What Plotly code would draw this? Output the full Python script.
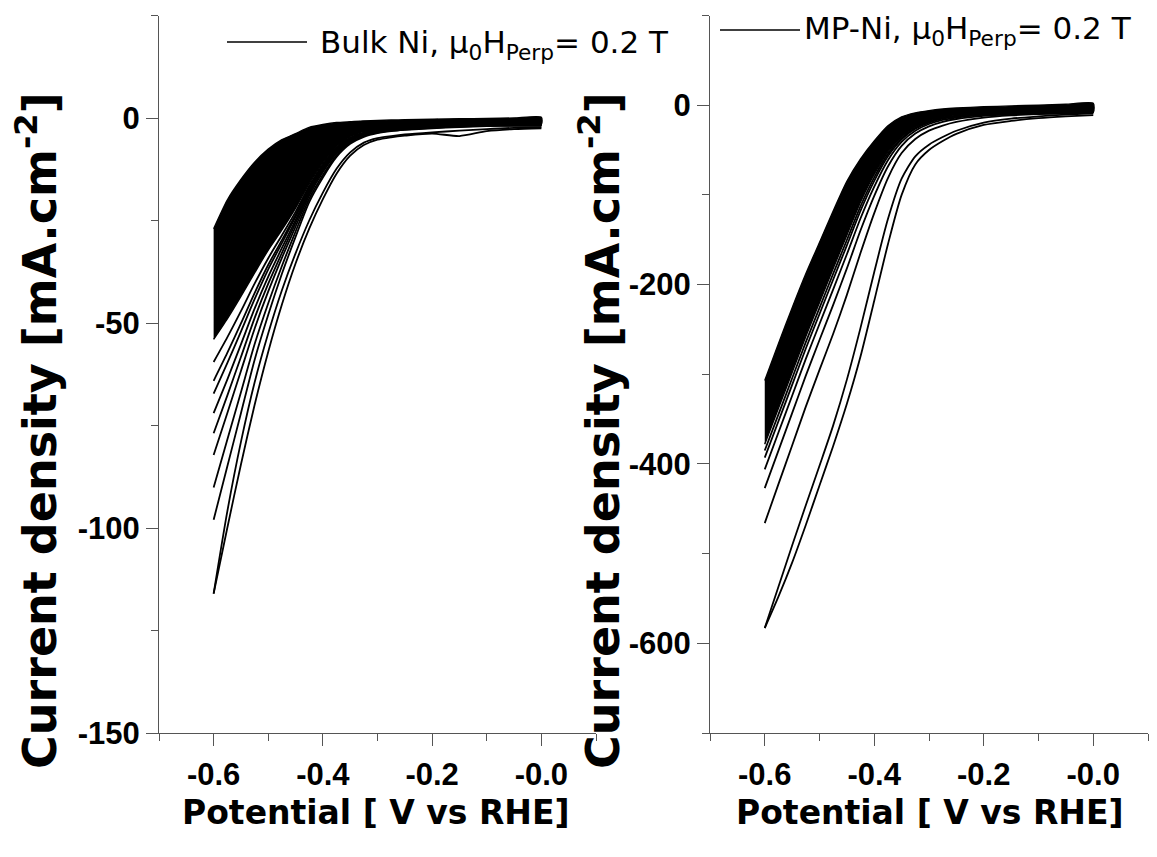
import plotly.graph_objects as go

# ---------------- data ----------------
potential = [-0.6, -0.575, -0.55, -0.525, -0.5, -0.475, -0.45, -0.425, -0.4, -0.375,
             -0.35, -0.325, -0.3, -0.275, -0.25, -0.2, -0.15, -0.1, -0.05, 0.0]

# Bulk Ni (left panel), current density in mA/cm2
bulk_band_upper = [-27, -20, -15, -10.8, -7.6, -5.3, -3.8, -2.3, -1.6, -1.1,
                   -0.9, -0.7, -0.6, -0.5, -0.4, -0.3, -0.2, -0.1, 0.0, 0.2]
bulk_band_lower = [-54, -49, -43.5, -37.8, -32.2, -27.3, -22, -16, -11, -7,
                   -4.7, -3.5, -3.0, -2.6, -2.35, -2.0, -1.7, -1.6, -1.5, -1.5]
bulk_c60 = [-59.5, -53.5, -47.1, -40.4, -34.2, -28.6, -22.9, -16.6, -11.4, -7.3,
            -4.9, -3.6, -3.1, -2.7, -2.4, -2.1, -1.8, -1.65, -1.55, -1.55]
bulk_c64 = [-64.1, -57.3, -50.1, -42.7, -35.8, -29.8, -23.6, -17.0, -11.8, -7.6,
            -5.1, -3.75, -3.16, -2.74, -2.48, -2.12, -1.82, -1.69, -1.59, -1.59]
bulk_c67 = [-67.2, -59.8, -52.1, -44.2, -36.9, -30.5, -24.1, -17.35, -12.05, -7.75,
            -5.2, -3.8, -3.2, -2.8, -2.5, -2.15, -1.85, -1.7, -1.6, -1.6]
bulk_c72 = [-72, -63.8, -55.2, -46.5, -38.7, -31.7, -24.9, -17.8, -12.4, -8.0,
            -5.35, -3.95, -3.3, -2.85, -2.58, -2.2, -1.9, -1.76, -1.66, -1.66]
bulk_c77 = [-76.9, -67.7, -58.3, -48.8, -40.4, -32.9, -25.6, -18.3, -12.8, -8.3,
            -5.5, -4.07, -3.36, -2.91, -2.64, -2.26, -1.96, -1.81, -1.71, -1.71]
bulk_c82 = [-82.2, -72, -61.7, -51.4, -42.3, -34.1, -26.5, -18.9, -13.2, -8.6,
            -5.7, -4.2, -3.45, -3.0, -2.7, -2.32, -2.02, -1.86, -1.76, -1.76]
bulk_c90 = [-90.1, -78.5, -66.9, -55.2, -45.2, -36.1, -27.7, -19.7, -13.9, -9.05,
            -6.0, -4.4, -3.57, -3.1, -2.8, -2.4, -2.1, -1.93, -1.83, -1.83]
bulk_c98 = [-98, -85, -72, -59, -48, -38, -29, -20.5, -14.5, -9.5,
            -6.3, -4.6, -3.7, -3.2, -2.9, -2.5, -2.2, -2.0, -1.9, -1.9]
bulk_c116_rev = [-116, -96, -79, -64.5, -52.5, -42, -33, -25, -18.2, -12.4,
                 -8.4, -6.0, -4.9, -4.4, -4.0, -3.5, -3.1, -2.7, -2.4, -2.3]
bulk_c116_fwd = [-116, -100, -84.5, -70, -57, -45.5, -35.5, -27, -19.8, -13.6,
                 -9.2, -6.6, -5.3, -4.7, -4.3, -3.8, -4.4, -3.2, -2.7, -2.5]

# MP-Ni (right panel)
mp_band_upper = [-307, -266, -226, -188, -153, -118, -85, -60, -40, -23,
                 -13, -8.5, -6, -4.3, -3.2, -1.8, -0.8, 0, 1, 2.2]
mp_band_lower = [-378, -338, -298, -258, -220, -182, -145, -108, -77, -52,
                 -35, -24, -17.5, -13.5, -11.5, -9.5, -8.7, -8.2, -8, -7.8]
mp_c385 = [-385, -344.7, -304.5, -264.2, -226, -187.8, -150.3, -112.5, -80.4, -54.3,
           -36.5, -25.1, -18.4, -14.2, -12.1, -9.8, -8.9, -8.3, -8.1, -7.8]
mp_c393 = [-393, -352.4, -311.9, -271.3, -232.8, -194.4, -156.3, -117.6, -84.4, -57,
           -38.1, -26.3, -19.4, -15.1, -12.7, -10.2, -9.2, -8.5, -8.2, -7.9]
mp_c406 = [-406.1, -365, -324, -282.9, -244, -205.3, -166.2, -126.1, -90.8, -61.3,
           -40.9, -28.4, -21, -16.4, -13.8, -10.9, -9.6, -8.8, -8.3, -7.95]
mp_c427 = [-427, -385.1, -343.4, -301.5, -261.8, -222.6, -182, -139.5, -101.1, -68.3,
           -45.3, -31.6, -23.6, -18.6, -15.4, -11.9, -10.2, -9.2, -8.6, -8.1]
mp_c466 = [-466, -422.5, -379.5, -336.1, -295.1, -254.9, -211.5, -164.6, -120.3, -81.2,
           -53.4, -37.7, -28.4, -22.7, -18.6, -13.8, -11.4, -10, -9.1, -8.3]
mp_c583_rev = [-583, -537, -491, -446, -402, -357, -306, -248, -186, -127,
               -82, -57, -44, -35.5, -28.5, -19.5, -15, -12.5, -10.5, -9]
mp_c583_fwd = [-583, -548, -510, -468, -424, -380, -333, -280, -218, -155,
               -100, -66, -50, -40, -32, -22, -17.5, -14.5, -12.5, -11]

x_tickvals = [-0.6, -0.4, -0.2, 0.0]
x_ticktext = ["-0.6", "-0.4", "-0.2", "-0.0"]
bulk_y_tickvals = [-150, -100, -50, 0]
bulk_y_ticktext = ["-150", "-100", "-50", "0"]
mp_y_tickvals = [-600, -400, -200, 0]
mp_y_ticktext = ["-600", "-400", "-200", "0"]
left_legend = "Bulk Ni, \u03bc<sub>0</sub>H<sub>Perp</sub>= 0.2 T"
right_legend = "MP-Ni, \u03bc<sub>0</sub>H<sub>Perp</sub>= 0.2 T"
x_title = "Potential [ V vs RHE]"
y_title = "Current density [mA.cm<sup>-2</sup>]"

# ---------------- figure ----------------
W, H = 1157, 857
fig = go.Figure()
LINE = dict(color="black", width=1.8, shape="spline", smoothing=0.7)


def add_band(upper, lower, xa, ya):
    fig.add_trace(go.Scatter(
        x=potential + potential[::-1], y=upper + lower[::-1],
        fill="toself", fillcolor="black", mode="lines",
        line=dict(color="black", width=1.4, shape="spline", smoothing=0.6),
        xaxis=xa, yaxis=ya, showlegend=False, hoverinfo="skip"))


def add_curve(values, xa, ya):
    fig.add_trace(go.Scatter(x=potential, y=values, mode="lines", line=LINE,
                             xaxis=xa, yaxis=ya, showlegend=False))


add_band(bulk_band_upper, bulk_band_lower, "x", "y")
for c in [bulk_c60, bulk_c64, bulk_c67, bulk_c72, bulk_c77, bulk_c82, bulk_c90,
          bulk_c98, bulk_c116_rev, bulk_c116_fwd]:
    add_curve(c, "x", "y")

add_band(mp_band_upper, mp_band_lower, "x2", "y2")
for c in [mp_c385, mp_c393, mp_c406, mp_c427, mp_c466, mp_c583_rev, mp_c583_fwd]:
    add_curve(c, "x2", "y2")

AX = "#555555"
TICKFONT = dict(family="Liberation Sans, Arial", size=31, color="black", weight="bold")
common_x = dict(range=[-0.7, 0.1], tickvals=x_tickvals, ticktext=x_ticktext,
                showline=True, linecolor=AX, linewidth=1, ticks="outside",
                ticklen=12, tickcolor=AX, tickwidth=1, showgrid=False, zeroline=False,
                tickfont=TICKFONT, ticklabelstandoff=2, automargin=False,
                minor=dict(dtick=0.1, tick0=-0.7, ticklen=7, tickcolor=AX,
                           tickwidth=1, ticks="outside", showgrid=False))
common_y = dict(showline=True, linecolor=AX, linewidth=1, ticks="outside",
                ticklen=12, tickcolor=AX, tickwidth=1, showgrid=False, zeroline=False,
                tickfont=TICKFONT, ticklabelstandoff=0, automargin=False)

ydom = [124 / H, 841.5 / H]
fig.update_layout(
    width=W, height=H, autosize=False,
    margin=dict(l=0, r=0, t=0, b=0),
    paper_bgcolor="white", plot_bgcolor="white", showlegend=False,
    xaxis=dict(domain=[159 / W, 596 / W], anchor="y", **common_x),
    yaxis=dict(domain=ydom, anchor="x", range=[-150, 25], tickvals=bulk_y_tickvals,
               ticktext=bulk_y_ticktext,
               minor=dict(dtick=25, tick0=0, ticklen=7, tickcolor=AX, tickwidth=1,
                          ticks="outside", showgrid=False), **common_y),
    xaxis2=dict(domain=[710 / W, 1148 / W], anchor="y2", **common_x),
    yaxis2=dict(domain=ydom, anchor="x2", range=[-700, 100], tickvals=mp_y_tickvals,
                ticktext=mp_y_ticktext,
                minor=dict(dtick=100, tick0=0, ticklen=7, tickcolor=AX, tickwidth=1,
                           ticks="outside", showgrid=False), **common_y),
)

TITLEFONT = dict(family="DejaVu Sans", size=33, color="black", weight="bold")
YTITLEFONT = dict(family="DejaVu Sans", size=46, color="black", weight="bold")
LEGFONT = dict(family="DejaVu Sans", size=31, color="black")

annotations = [
    dict(text=x_title, x=376 / W, y=(H - 812) / H, font=TITLEFONT),
    dict(text=x_title, x=930 / W, y=(H - 812) / H, font=TITLEFONT),
    dict(text=y_title, x=37 / W, y=(H - 431) / H, font=YTITLEFONT, textangle=-90),
    dict(text=y_title, x=600 / W, y=(H - 431) / H, font=YTITLEFONT, textangle=-90),
    dict(text=left_legend, x=318 / W, y=(H - 44) / H, font=LEGFONT, xanchor="left"),
    dict(text=right_legend, x=802 / W, y=(H - 31) / H, font=LEGFONT, xanchor="left"),
]
for a in annotations:
    a.setdefault("xanchor", "center")
    fig.add_annotation(xref="paper", yref="paper", showarrow=False, yanchor="middle", **a)

fig.add_shape(type="line", xref="paper", yref="paper", x0=227 / W, x1=307 / W,
              y0=(H - 42) / H, y1=(H - 42) / H, line=dict(color="black", width=1.5))
fig.add_shape(type="line", xref="paper", yref="paper", x0=720 / W, x1=800 / W,
              y0=(H - 30) / H, y1=(H - 30) / H, line=dict(color="black", width=1.5))

fig.write_html("out.html", config={"displayModeBar": False},
               post_script="document.body.style.margin='0px';document.body.style.overflow='hidden';")
